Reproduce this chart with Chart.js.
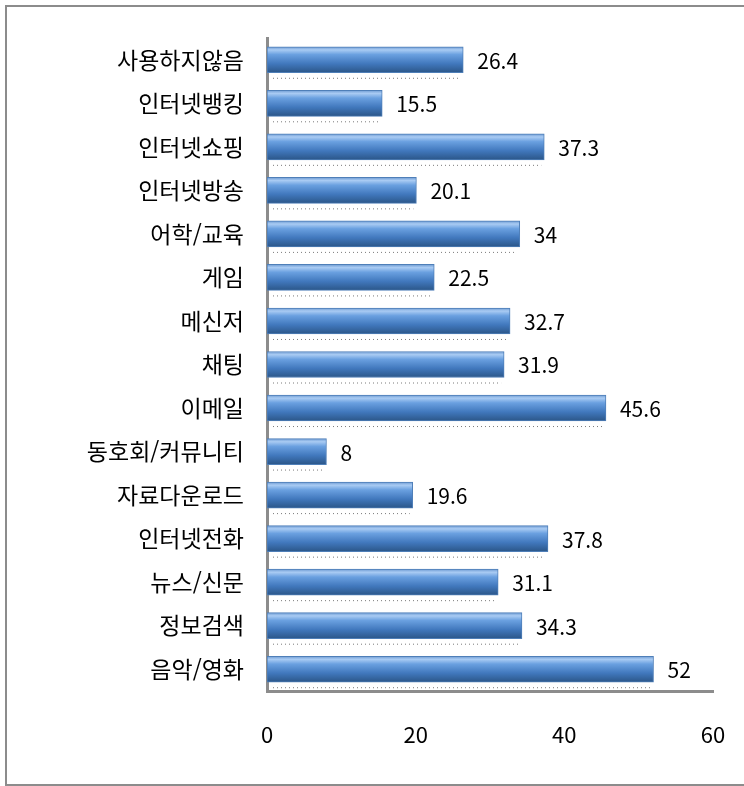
<!DOCTYPE html>
<html lang="ko">
<head>
<meta charset="utf-8">
<title>인터넷 이용 목적</title>
<script src="https://cdn.jsdelivr.net/npm/chart.js@4/dist/chart.umd.min.js"></script>
<style>
    html, body { margin: 0; padding: 0; background: #fff; overflow: hidden; }
    #frame {
        position: absolute; left: 5px; top: 5px;
        width: 780px; height: 777px;
        border: 2px solid #8c8c8c; border-right: none;
    }
    #chart { position: absolute; left: 0; top: 0; }
</style>
</head>
<body>
<div id="frame"></div>
<canvas id="chart" width="744" height="786"></canvas>
<script>
const categories = ['사용하지않음', '인터넷뱅킹', '인터넷쇼핑', '인터넷방송', '어학/교육', '게임', '메신저',
    '채팅', '이메일', '동호회/커뮤니티', '자료다운로드', '인터넷전화', '뉴스/신문', '정보검색', '음악/영화'];
const usage = [26.4, 15.5, 37.3, 20.1, 34, 22.5, 32.7, 31.9, 45.6, 8, 19.6, 37.8, 31.1, 34.3, 52];
const xTicks = [0, 20, 40, 60];

const font = '"Noto Sans CJK KR", "Noto Sans", sans-serif';
const BAR = 26;

// vertical gradient so each bar looks like a rounded tube
function barFill(ctx) {
    const chart = ctx.chart;
    if (!chart.chartArea) return '#4f81bd';
    const y = chart.scales.y.getPixelForValue(ctx.dataIndex);
    const g = chart.ctx.createLinearGradient(0, y - BAR / 2, 0, y + BAR / 2);
    g.addColorStop(0, '#6d9ad2');
    g.addColorStop(0.12, '#a9cbf3');
    g.addColorStop(0.3, '#6aa0e0');
    g.addColorStop(0.65, '#4178bd');
    g.addColorStop(1, '#2b5688');
    return g;
}

// value text at bar ends plus the dotted shadow under each bar
const barExtras = {
    id: 'barExtras',
    afterDatasetsDraw(chart) {
        const c = chart.ctx;
        const meta = chart.getDatasetMeta(0);
        c.save();
        meta.data.forEach((bar, i) => {
            const bottom = bar.y + bar.height / 2;
            c.strokeStyle = '#7a7a7a';
            c.lineWidth = 1;
            c.setLineDash([1, 3]);
            c.beginPath();
            c.moveTo(bar.base + 6, bottom + 5.5);
            c.lineTo(bar.x - 3, bottom + 5.5);
            c.stroke();
            c.setLineDash([]);

            c.fillStyle = '#000';
            c.font = '21px ' + font;
            c.textAlign = 'left';
            c.textBaseline = 'middle';
            c.fillText(String(usage[i]), bar.x + 14, bar.y + 1);
        });
        c.restore();
    }
};

new Chart(document.getElementById('chart'), {
    type: 'bar',
    data: {
        labels: categories,
        datasets: [{
            data: usage,
            backgroundColor: barFill,
            borderColor: '#4f7fb8',
            borderWidth: 1,
            borderSkipped: false,
            barThickness: BAR
        }]
    },
    options: {
        indexAxis: 'y',
        responsive: false,
        animation: false,
        layout: { padding: { top: 38, right: 31, left: 0, bottom: 0 } },
        plugins: {
            legend: { display: false },
            tooltip: { enabled: false }
        },
        scales: {
            x: {
                min: 0,
                max: 60,
                afterBuildTicks: (scale) => { scale.ticks = xTicks.map(v => ({ value: v })); },
                grid: { display: false },
                border: { display: true, color: '#8c8c8c', width: 3 },
                ticks: { color: '#000', padding: 22, font: { family: font, size: 22 } },
                afterFit: (scale) => {
                    scale.height = 95;
                    // let the "60" label hang past the plot edge
                    scale.paddingLeft = 0;
                    scale.paddingRight = 0;
                }
            },
            y: {
                grid: { display: false },
                border: { display: true, color: '#8c8c8c', width: 3 },
                ticks: { color: '#000', padding: 15, font: { family: font, size: 23 } },
                afterFit: (scale) => { scale.width = 267; }
            }
        }
    },
    plugins: [barExtras]
});
</script>
</body>
</html>
